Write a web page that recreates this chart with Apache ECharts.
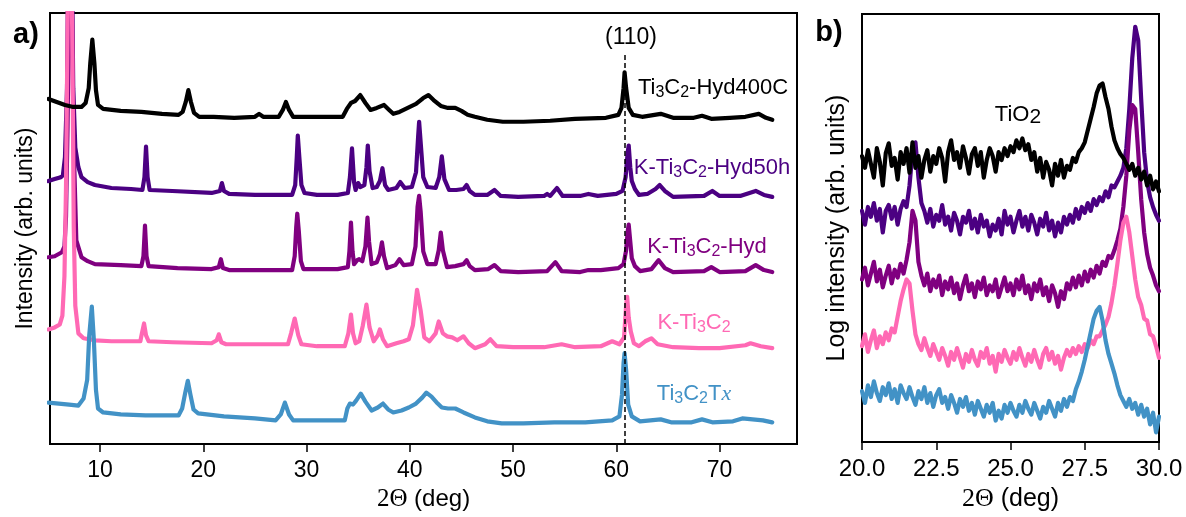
<!DOCTYPE html>
<html>
<head>
<meta charset="utf-8">
<script src="https://cdn.jsdelivr.net/npm/echarts@6/dist/echarts.min.js"></script>
<style>
  html, body { margin: 0; padding: 0; background: #fff; }
  #chart { width: 1186px; height: 517px; }
</style>
</head>
<body>
<div id="chart"></div>
<script>
// ---- Panel a: full XRD patterns, stacked (2θ in deg, offset intensity) ----
const hyd400cPattern = [
  [5.0, 349], [5.8, 346], [6.6, 343], [7.4, 341], [8.2, 341], [8.6, 345], [8.9, 360], [9.05, 385],
  [9.25, 409], [9.45, 385], [9.6, 358], [9.8, 343], [10.3, 339], [12, 337], [14, 336], [16, 334],
  [17.6, 333], [18.0, 336], [18.3, 346], [18.55, 358], [18.8, 346], [19.1, 335], [19.6, 331], [21, 331],
  [23, 330], [25.0, 331], [25.4, 334], [25.8, 331], [27.3, 331], [27.7, 338], [28.0, 346], [28.3, 338],
  [28.7, 331], [31, 331], [33.5, 331], [33.9, 339], [34.3, 345], [34.7, 347], [35.2, 353], [35.7, 345],
  [36.2, 338], [36.8, 340], [37.5, 343], [38.0, 338], [38.4, 334], [39.0, 336], [39.8, 340], [40.6, 344],
  [41.3, 350], [41.8, 353], [42.3, 348], [43.0, 342], [43.7, 340], [44.4, 340], [45.0, 337], [45.6, 333],
  [46.3, 331], [47.5, 328], [49, 326], [51, 326], [53.6, 327], [56, 329], [59, 330], [60.2, 333],
  [60.5, 340], [60.7, 360], [60.8, 376], [60.95, 360], [61.2, 340], [61.6, 333], [62.5, 331], [64.3, 334],
  [65.5, 330], [67.5, 330], [68.3, 332], [69.2, 329], [71, 330], [72.5, 331], [73.8, 334], [74.5, 330],
  [75.1, 328]
];
const hyd50hPattern = [
  [5.0, 266], [5.6, 268], [6.2, 270], [6.4, 272], [6.6, 290], [6.8, 360], [6.95, 520], [7.1, 640],
  [7.25, 520], [7.4, 360], [7.6, 300], [7.9, 280], [8.2, 270], [8.8, 265], [9.5, 262], [11.1, 259],
  [13.0, 258], [14.1, 257], [14.3, 270], [14.45, 301], [14.6, 270], [14.8, 257], [17, 256], [20.8, 254],
  [21.6, 256], [21.8, 264], [22.0, 256], [22.5, 253], [25, 252], [28.6, 252], [28.9, 262], [29.05, 290],
  [29.15, 312], [29.3, 290], [29.5, 262], [29.8, 254], [31, 252], [33, 252], [34.0, 254], [34.2, 270],
  [34.4, 299], [34.6, 265], [34.75, 257], [35.0, 264], [35.2, 260], [35.6, 262], [35.8, 280], [35.93, 302],
  [36.1, 276], [36.4, 259], [36.8, 260], [37.1, 266], [37.35, 279], [37.6, 262], [37.9, 257], [38.7, 259],
  [39.07, 265], [39.5, 259], [40.2, 260], [40.6, 275], [40.8, 310], [40.9, 326], [41.05, 305], [41.3, 270],
  [41.7, 260], [42.5, 259], [42.85, 270], [43.1, 291], [43.35, 268], [43.8, 257], [44.5, 257], [45.2, 258],
  [45.5, 262], [45.8, 256], [46.3, 252], [47.5, 252], [48.2, 257], [48.8, 251], [50.5, 250], [53, 251],
  [53.3, 253], [53.6, 251], [54.25, 259], [54.8, 251], [56.5, 251], [57.3, 253], [58.2, 251], [60.0, 253],
  [60.6, 256], [60.9, 270], [61.1, 295], [61.2, 302], [61.35, 280], [61.5, 266], [61.8, 258], [62.2, 252],
  [63.0, 253], [63.8, 258], [64.2, 262], [64.7, 256], [65.5, 250], [68.5, 251], [69.3, 256], [70.0, 251],
  [72.0, 251], [73.5, 256], [74.3, 252], [75.1, 250]
];
const hydPattern = [
  [5.0, 189], [5.6, 190], [6.3, 194], [6.55, 200], [6.7, 230], [6.85, 320], [7.0, 460], [7.1, 560],
  [7.25, 460], [7.45, 300], [7.7, 206], [8.2, 189], [8.8, 185], [9.5, 182], [12, 181], [14.0, 180],
  [14.2, 190], [14.35, 221], [14.5, 190], [14.7, 180], [17.5, 178], [20.8, 177], [21.5, 179], [21.7, 187],
  [21.9, 178], [22.5, 176], [25, 176], [28.6, 176], [28.85, 190], [29.0, 220], [29.1, 233], [29.25, 215],
  [29.45, 185], [29.7, 177], [31, 177], [33, 177], [34.0, 179], [34.15, 195], [34.3, 224], [34.45, 195],
  [34.6, 182], [34.9, 186], [35.1, 187], [35.4, 185], [35.7, 200], [35.9, 229], [36.05, 205], [36.3, 182],
  [36.8, 184], [37.1, 192], [37.3, 204], [37.5, 190], [37.8, 178], [38.6, 181], [39.0, 187], [39.4, 181],
  [40.2, 182], [40.55, 200], [40.75, 240], [40.9, 251], [41.05, 235], [41.3, 195], [41.7, 182], [42.5, 182],
  [42.8, 196], [43.0, 214], [43.2, 196], [43.6, 179], [44.4, 180], [45.2, 182], [45.5, 186], [45.8, 180],
  [46.3, 176], [47.6, 177], [48.2, 181], [48.8, 175], [50.5, 174], [53.3, 175], [54.1, 184], [54.7, 175],
  [56.5, 174], [57.3, 176], [58.5, 176], [60.2, 178], [60.7, 182], [60.95, 196], [61.1, 215], [61.2, 222],
  [61.35, 205], [61.5, 188], [61.8, 180], [62.3, 175], [63.4, 177], [64.1, 186], [64.7, 178], [65.5, 174],
  [68.5, 175], [69.2, 179], [70, 174], [72.5, 175], [73.5, 181], [74.3, 176], [75.1, 174]
];
const kti3c2Pattern = [
  [5.0, 116], [5.6, 118], [6.1, 121], [6.35, 130], [6.55, 170], [6.7, 260], [6.85, 420], [7.0, 620],
  [7.15, 620], [7.3, 420], [7.45, 220], [7.6, 140], [7.9, 112], [8.4, 107], [9.5, 105], [11.1, 104],
  [13.9, 104], [14.05, 112], [14.26, 122], [14.45, 110], [14.7, 104], [17, 103], [20.8, 102], [21.3, 105],
  [21.5, 111], [21.75, 103], [22.2, 101], [25, 101], [28.2, 101], [28.5, 112], [28.85, 127], [29.2, 110],
  [29.5, 101], [31, 99], [33.7, 99], [34.05, 112], [34.3, 131], [34.5, 112], [34.75, 102], [35.1, 104],
  [35.45, 120], [35.8, 141], [36.1, 118], [36.5, 104], [36.9, 110], [37.1, 116], [37.4, 106], [37.8, 99],
  [38.7, 102], [39.4, 104], [39.9, 106], [40.3, 120], [40.7, 156], [41.05, 135], [41.4, 108], [41.9, 104],
  [42.5, 112], [42.8, 124], [43.2, 112], [43.6, 109], [44.1, 108], [44.6, 105], [45.2, 109], [45.7, 102],
  [46.3, 97], [47.3, 101], [47.8, 106], [48.4, 99], [50, 98], [53, 98], [54.7, 101], [56, 98],
  [58.5, 99], [59.6, 104], [60.3, 101], [60.75, 108], [60.95, 140], [61.05, 149], [61.2, 128], [61.4, 114],
  [61.7, 102], [62.2, 99], [62.8, 104], [63.4, 107], [64.0, 101], [65.5, 98], [68, 97], [70, 97],
  [72.5, 100], [73.0, 102], [74.0, 99], [75.1, 97]
];
const ti3c2txPattern = [
  [5.0, 42], [6.0, 41], [7.0, 40], [7.9, 39], [8.4, 46], [8.75, 65], [8.95, 110], [9.2, 139],
  [9.4, 105], [9.6, 55], [9.8, 36], [10.3, 32], [12, 30], [14.4, 29], [16, 29], [17.6, 29],
  [17.95, 36], [18.25, 52], [18.5, 64], [18.75, 50], [19.05, 35], [19.5, 31], [22, 28], [25, 26],
  [27.0, 24], [27.5, 30], [27.9, 42], [28.3, 30], [28.7, 24], [31, 24], [33.7, 24], [33.95, 36],
  [34.2, 41], [34.5, 40], [34.8, 44], [35.25, 51], [35.7, 43], [36.3, 34], [36.9, 37], [37.4, 41],
  [37.9, 35], [38.4, 32], [39.2, 34], [39.9, 37], [40.6, 41], [41.2, 47], [41.6, 52], [42.1, 48],
  [42.7, 41], [43.1, 37], [43.7, 36], [44.4, 36], [45.2, 32], [46.3, 27], [47.5, 23], [48.9, 21],
  [51, 21], [54, 22], [57, 22], [59.6, 24], [60.3, 28], [60.55, 50], [60.7, 82], [60.8, 92],
  [60.95, 75], [61.15, 40], [61.5, 28], [62.3, 23], [63.3, 24], [64.3, 25], [65.3, 22], [67.3, 22],
  [68.3, 25], [69.3, 22], [71.3, 23], [72.2, 26], [73.2, 25], [74.2, 24], [75.1, 22]
];
const panelATicks = [10, 20, 30, 40, 50, 60, 70];
const peak110 = 60.8;

// ---- Panel b: 20–30° window, log intensity, stacked ----
const zoomTheta = [
  20.0, 20.1, 20.2, 20.3, 20.4, 20.5, 20.6, 20.7, 20.8, 20.9,
  21.0, 21.1, 21.2, 21.3, 21.4, 21.5, 21.6, 21.7, 21.8, 21.9,
  22.0, 22.1, 22.2, 22.3, 22.4, 22.5, 22.6, 22.7, 22.8, 22.9,
  23.0, 23.1, 23.2, 23.3, 23.4, 23.5, 23.6, 23.7, 23.8, 23.9,
  24.0, 24.1, 24.2, 24.3, 24.4, 24.5, 24.6, 24.7, 24.8, 24.9,
  25.0, 25.1, 25.2, 25.3, 25.4, 25.5, 25.6, 25.7, 25.8, 25.9,
  26.0, 26.1, 26.2, 26.3, 26.4, 26.5, 26.6, 26.7, 26.8, 26.9,
  27.0, 27.1, 27.2, 27.3, 27.4, 27.5, 27.6, 27.7, 27.8, 27.9,
  28.0, 28.1, 28.2, 28.3, 28.4, 28.5, 28.6, 28.7, 28.8, 28.9,
  29.0, 29.1, 29.2, 29.3, 29.4, 29.5, 29.6, 29.7, 29.8, 29.9,
  30.0
];
const hyd400cLog = [
  292, 280, 298, 284, 270, 300, 286, 262, 295, 305,
  282, 290, 268, 296, 284, 300, 275, 306, 280, 292,
  270, 288, 298, 276, 292, 284, 300, 290, 266, 296,
  308, 288, 296, 280, 302, 290, 274, 294, 300, 282,
  296, 270, 288, 300, 292, 276, 296, 288, 300, 292,
  302, 296, 308, 300, 310, 298, 304, 288, 296, 276,
  290, 270, 286, 278, 262, 284, 272, 288, 270, 282,
  278, 290, 286, 296, 300, 306, 318, 330, 342, 356,
  364, 366, 352, 340, 322, 308, 300, 294, 290, 284,
  278, 284, 272, 280, 268, 276, 262, 272, 258, 266,
  256
];
const hyd50hLog = [
  236, 222, 240, 230, 244, 226, 238, 214, 236, 242,
  228, 240, 222, 238, 246, 240, 262, 296, 306, 270,
  244, 236, 224, 238, 220, 232, 226, 242, 222, 230,
  216, 234, 226, 212, 230, 224, 236, 218, 228, 214,
  232, 220, 226, 210, 222, 216, 228, 212, 236, 222,
  230, 214, 226, 236, 220, 230, 216, 232, 224, 212,
  228, 220, 234, 216, 226, 210, 224, 214, 230, 222,
  232, 224, 238, 228, 240, 234, 244, 236, 248, 242,
  250, 246, 256, 250, 262, 260, 266, 272, 280, 300,
  340, 392, 424, 410, 350, 296, 266, 250, 240, 232,
  226
];
const hydLog = [
  166, 178, 160, 172, 184, 164, 176, 158, 170, 180,
  162, 176, 168, 182, 172, 186, 204, 236, 226, 184,
  170, 160, 172, 154, 166, 158, 170, 150, 164, 156,
  168, 152, 162, 146, 160, 170, 154, 162, 148, 164,
  156, 168, 150, 160, 154, 166, 148, 158, 168, 154,
  162, 150, 166, 156, 170, 152, 160, 146, 162, 154,
  166, 150, 158, 144, 160, 152, 138, 154, 146, 162,
  156, 168, 158, 170, 160, 174, 164, 176, 168, 180,
  172, 184, 180, 190, 188, 196, 206, 218, 240, 272,
  318, 344, 340, 296, 248, 214, 192, 178, 170, 160,
  154
];
const kti3c2Log = [
  98, 110, 92, 104, 114, 96, 108, 100, 112, 104,
  116, 112, 128, 144, 156, 166, 162, 134, 110, 100,
  94, 106, 96, 88, 100, 92, 84, 96, 88, 78,
  92, 84, 96, 86, 76, 90, 82, 94, 84, 78,
  92, 86, 96, 80, 88, 72, 90, 82, 94, 86,
  80, 92, 84, 96, 86, 78, 90, 82, 94, 84,
  76, 90, 96, 84, 92, 80, 88, 74, 86, 94,
  88, 96, 90, 98, 92, 100, 96, 104, 100, 108,
  108, 114, 120, 128, 142, 160, 182, 206, 224, 230,
  214, 190, 166, 148, 140, 126, 124, 110, 108, 98,
  86
];
const ti3c2txLog = [
  52, 40, 58, 46, 62, 50, 42, 56, 48, 60,
  44, 54, 40, 58, 50, 44, 56, 46, 38, 52,
  44, 56, 40, 50, 36, 48, 54, 40, 46, 34,
  48, 40, 30, 44, 36, 46, 32, 40, 28, 42,
  34, 26, 38, 30, 40, 22, 32, 24, 38, 30,
  40, 32, 26, 38, 30, 42, 34, 28, 40, 32,
  24, 36, 30, 42, 34, 26, 40, 32, 44, 36,
  46, 42, 54, 62, 72, 84, 98, 112, 126, 134,
  138, 124, 104, 90, 80, 70, 58, 48, 42, 36,
  44, 34, 40, 28, 38, 26, 34, 18, 30, 10,
  26
];

// ---- Styling ----
const SANS = '"Liberation Sans", Arial, sans-serif';
const SERIF = '"Liberation Serif", "Times New Roman", serif';
const colors = {
  hyd400c: '#000000',
  hyd50h: '#4b0082',
  hyd: '#800080',
  kti3c2: '#ff69b4',
  ti3c2tx: '#4292c6'
};

function pairs(xs, ys) { return xs.map((x, i) => [x, ys[i]]); }

function trace(data, color, gridIdx, extra) {
  return Object.assign({
    type: 'line',
    data: data,
    xAxisIndex: gridIdx,
    yAxisIndex: gridIdx,
    symbol: 'none',
    clip: true,
    lineStyle: { color: color, width: 4.2, join: 'round', cap: 'round' },
    itemStyle: { color: color },
    emphasis: { disabled: true },
    silent: true,
    animation: false
  }, extra || {});
}

const subRich = {
  s: { fontSize: 16, fontFamily: SANS, lineHeight: 14, verticalAlign: 'bottom' },
  i: { fontSize: 22, fontFamily: SERIF, fontStyle: 'italic', lineHeight: 25 }
};

function sampleLabel(text, x, y, color) {
  return {
    type: 'text', x: x, y: y, silent: true,
    style: {
      text: text, fill: color, fontSize: 22, fontFamily: SANS, lineHeight: 25,
      align: 'center', verticalAlign: 'middle', rich: subRich
    }
  };
}

function thetaName(size) {
  return {
    name: '{g|2Θ} (deg)',
    nameLocation: 'middle',
    nameGap: 34,
    nameTextStyle: {
      color: '#000', fontSize: size, fontFamily: SANS,
      rich: { g: { fontSize: size + 1, fontFamily: SERIF, color: '#000' } }
    }
  };
}

const option = {
  backgroundColor: '#ffffff',
  animation: false,
  grid: [
    { left: 50, top: 13, width: 747, height: 436, show: true, borderColor: '#000', borderWidth: 2, backgroundColor: 'transparent' },
    { left: 862, top: 14, width: 297, height: 437, show: true, borderColor: '#000', borderWidth: 2, backgroundColor: 'transparent' }
  ],
  xAxis: [
    Object.assign({
      gridIndex: 0, type: 'value', min: 5.15, max: 77.5,
      axisLine: { show: true, onZero: false, lineStyle: { color: '#000', width: 2 } },
      axisTick: { show: true, customValues: panelATicks, length: 8, lineStyle: { color: '#000', width: 1.5 } },
      axisLabel: { customValues: panelATicks, margin: 15, color: '#000', fontSize: 23, fontFamily: SANS },
      splitLine: { show: false }
    }, thetaName(24)),
    Object.assign({
      gridIndex: 1, type: 'value', min: 20, max: 30, interval: 2.5,
      axisLine: { show: true, onZero: false, lineStyle: { color: '#000', width: 2 } },
      axisTick: { show: true, length: 8, lineStyle: { color: '#000', width: 1.5 } },
      axisLabel: { margin: 15, color: '#000', fontSize: 24, fontFamily: SANS,
        formatter: v => v.toFixed(1), showMinLabel: true, showMaxLabel: true },
      splitLine: { show: false }
    }, thetaName(25))
  ],
  yAxis: [
    {
      gridIndex: 0, type: 'value', min: 0, max: 436,
      axisLine: { show: true, lineStyle: { color: '#000', width: 2 } },
      axisTick: { show: false }, axisLabel: { show: false }, splitLine: { show: false },
      name: 'Intensity (arb. units)', nameLocation: 'middle', nameGap: 13,
      nameTextStyle: { color: '#000', fontSize: 23, fontFamily: SANS }
    },
    {
      gridIndex: 1, type: 'value', min: 0, max: 437,
      axisLine: { show: true, lineStyle: { color: '#000', width: 2 } },
      axisTick: { show: false }, axisLabel: { show: false }, splitLine: { show: false },
      name: 'Log intensity (arb. units)', nameLocation: 'middle', nameGap: 12,
      nameTextStyle: { color: '#000', fontSize: 25, fontFamily: SANS }
    }
  ],
  series: [
    trace(hyd50hPattern, colors.hyd50h, 0),
    trace(hydPattern, colors.hyd, 0),
    trace(kti3c2Pattern, colors.kti3c2, 0),
    trace(ti3c2txPattern, colors.ti3c2tx, 0),
    trace(hyd400cPattern, colors.hyd400c, 0, {
      markLine: {
        silent: true, symbol: ['none', 'none'], animation: false,
        label: { show: false },
        lineStyle: { color: '#000', type: [5, 3], width: 1.5 },
        data: [[{ coord: [peak110, 0] }, { coord: [peak110, 396] }]]
      }
    }),
    trace(pairs(zoomTheta, hyd50hLog), colors.hyd50h, 1),
    trace(pairs(zoomTheta, hydLog), colors.hyd, 1),
    trace(pairs(zoomTheta, kti3c2Log), colors.kti3c2, 1),
    trace(pairs(zoomTheta, ti3c2txLog), colors.ti3c2tx, 1),
    trace(pairs(zoomTheta, hyd400cLog), colors.hyd400c, 1)
  ],
  graphic: [
    { type: 'text', x: 26, y: 35, silent: true,
      style: { text: 'a)', fill: '#000', fontSize: 29, fontWeight: 'bold', fontFamily: SANS, align: 'center', verticalAlign: 'middle' } },
    { type: 'text', x: 829, y: 33, silent: true,
      style: { text: 'b)', fill: '#000', fontSize: 29, fontWeight: 'bold', fontFamily: SANS, align: 'center', verticalAlign: 'middle' } },
    { type: 'text', x: 631, y: 38, silent: true,
      style: { text: '(110)', fill: '#000', fontSize: 23, fontFamily: SANS, align: 'center', verticalAlign: 'middle' } },
    sampleLabel('Ti{s|3}C{s|2}-Hyd400C', 713, 88, colors.hyd400c),
    sampleLabel('K-Ti{s|3}C{s|2}-Hyd50h', 712, 168, colors.hyd50h),
    sampleLabel('K-Ti{s|3}C{s|2}-Hyd', 707, 247, colors.hyd),
    sampleLabel('K-Ti{s|3}C{s|2}', 694, 323, colors.kti3c2),
    sampleLabel('Ti{s|3}C{s|2}T{i|x}', 694, 394, colors.ti3c2tx),
    { type: 'text', x: 1018, y: 115, silent: true,
      style: {
        text: 'TiO{d|2}', fill: '#000', fontSize: 22, fontFamily: SANS, lineHeight: 25,
        align: 'center', verticalAlign: 'middle',
        rich: { d: { fontSize: 21, fontFamily: SANS, lineHeight: 12, verticalAlign: 'bottom' } }
      } }
  ]
};

const chart = echarts.init(document.getElementById('chart'), null, { renderer: 'canvas' });
chart.setOption(option);
</script>
</body>
</html>
